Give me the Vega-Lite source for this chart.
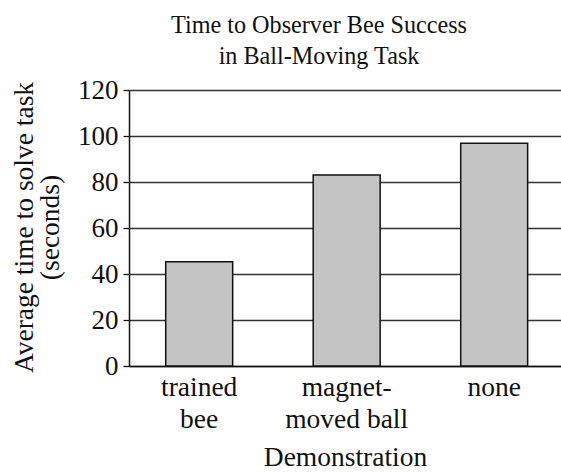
{
  "$schema": "https://vega.github.io/schema/vega-lite/v6.json",
  "autosize": "none",
  "width": 432,
  "height": 276,
  "padding": {"left": 129, "top": 90, "right": 0, "bottom": 107},
  "background": "white",
  "title": {
    "text": ["Time to Observer Bee Success", "in Ball-Moving Task"],
    "font": "Liberation Serif",
    "fontSize": 24.2,
    "fontWeight": "normal",
    "color": "#111",
    "lineHeight": 31,
    "anchor": "middle",
    "dx": -26,
    "offset": 7
  },
  "data": {
    "values": [
      {"demo": "trained bee", "time": 45.3},
      {"demo": "magnet-moved ball", "time": 83},
      {"demo": "none", "time": 96.8}
    ]
  },
  "mark": {"type": "bar", "fill": "#c4c4c4", "stroke": "#111", "strokeWidth": 1.5},
  "encoding": {
    "x": {
      "field": "demo",
      "type": "nominal",
      "sort": null,
      "title": "Demonstration",
      "scale": {"paddingInner": 0.546, "paddingOuter": 0.2375, "align": 0.524},
      "axis": {
        "labelAngle": 0,
        "labelFont": "Liberation Serif",
        "labelFontSize": 27.5,
        "labelColor": "#111",
        "labelLineHeight": 32,
        "labelPadding": 7,
        "labelExpr": "datum.value == 'trained bee' ? ['trained', 'bee'] : datum.value == 'magnet-moved ball' ? ['magnet-', 'moved ball'] : datum.value",
        "ticks": false,
        "domainColor": "#111",
        "domainWidth": 1.5,
        "titleFont": "Liberation Serif",
        "titleFontSize": 27.5,
        "titleFontWeight": "normal",
        "titleColor": "#111",
        "titlePadding": 11
      }
    },
    "y": {
      "field": "time",
      "type": "quantitative",
      "scale": {"domain": [0, 120]},
      "title": ["Average time to solve task", "(seconds)"],
      "axis": {
        "values": [0, 20, 40, 60, 80, 100, 120],
        "grid": true,
        "gridColor": "#333",
        "gridWidth": 1.3,
        "domainColor": "#111",
        "domainWidth": 1.5,
        "tickColor": "#111",
        "tickSize": 6,
        "tickWidth": 1.3,
        "labelFont": "Liberation Serif",
        "labelFontSize": 27,
        "labelColor": "#111",
        "labelPadding": 5,
        "titleFont": "Liberation Serif",
        "titleFontSize": 27.5,
        "titleFontWeight": "normal",
        "titleColor": "#111",
        "titleLineHeight": 26,
        "titleBaseline": "middle",
        "titleX": -105,
        "titleY": 137
      }
    }
  },
  "config": {"view": {"stroke": null}}
}
